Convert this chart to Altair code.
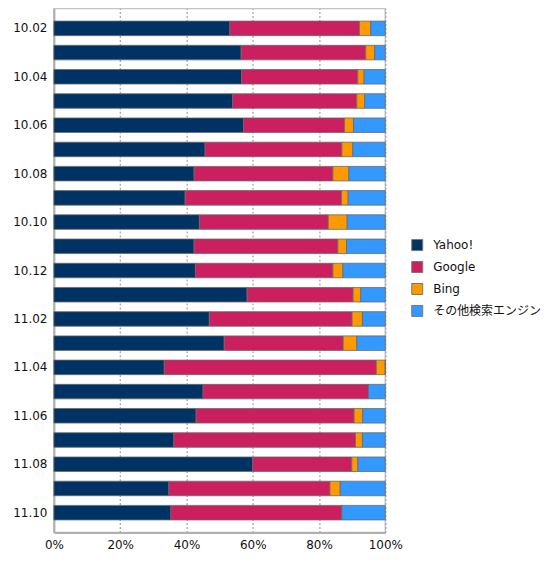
import altair as alt
import pandas as pd

months = ["10.02", "10.03", "10.04", "10.05", "10.06", "10.07", "10.08", "10.09",
          "10.10", "10.11", "10.12", "11.01", "11.02", "11.03", "11.04", "11.05",
          "11.06", "11.07", "11.08", "11.09", "11.10"]
yahoo = [53.1, 56.5, 56.6, 53.9, 57.2, 45.6, 42.3, 39.6, 43.9, 42.3, 42.7,
         58.3, 46.9, 51.4, 33.3, 45.0, 42.9, 36.2, 60.0, 34.7, 35.3]
google = [39.1, 37.6, 35.1, 37.5, 30.5, 41.3, 41.9, 47.2, 38.9, 43.4, 41.5,
          32.0, 43.1, 35.9, 64.0, 49.9, 47.7, 54.8, 29.9, 48.6, 51.6]
bing = [3.4, 2.7, 1.9, 2.4, 2.7, 3.3, 4.8, 2.0, 5.7, 2.6, 3.0,
        2.3, 3.1, 4.1, 2.7, 0.0, 2.6, 2.1, 1.8, 3.1, 0.0]
other = [4.4, 3.2, 6.4, 6.2, 9.6, 9.8, 11.0, 11.2, 11.5, 11.7, 12.8,
         7.4, 6.9, 8.6, 0.0, 5.1, 6.8, 6.9, 8.3, 13.6, 13.1]

engines = ["Yahoo!", "Google", "Bing", "その他検索エンジン"]
colors = ["#003263", "#CC1F5F", "#FF9900", "#3399FF"]

rows = []
for i, m in enumerate(months):
    for j, (name, vals) in enumerate(zip(engines, [yahoo, google, bing, other])):
        rows.append({"month": m, "engine": name, "value": vals[i], "idx": j})
df = pd.DataFrame(rows)

font = "DejaVu Sans, Noto Sans CJK JP"

chart = alt.Chart(df).mark_bar(stroke="#6a6a6a", strokeWidth=0.8).encode(
    y=alt.Y("month:N", sort=months,
            scale=alt.Scale(paddingInner=0.4, paddingOuter=0.52),
            axis=alt.Axis(title=None, ticks=False, labelPadding=7, minExtent=46,
                          labelFontSize=12, labelColor="#111", labelFont=font,
                          domainColor="#b0b0b0", domainWidth=2,
                          labelExpr="toNumber(substring(datum.value,3,5)) % 2 == 0 ? datum.value : ''")),
    x=alt.X("value:Q", stack="normalize",
            scale=alt.Scale(domain=[0, 1], nice=False),
            axis=alt.Axis(title=None, format="%", values=[0, 0.2, 0.4, 0.6, 0.8, 1.0],
                          ticks=False, labelPadding=7, labelFontSize=12, labelFont=font,
                          labelColor="#111", grid=True, gridDash=[2, 2],
                          gridColor="#a0a0a0", gridWidth=1.2,
                          domainColor="#b0b0b0", domainWidth=2,
                          labelFlush=False)),
    color=alt.Color("engine:N",
                    scale=alt.Scale(domain=engines, range=colors),
                    legend=alt.Legend(title=None, orient="none", legendX=358, legendY=231,
                                      symbolType="square", symbolSize=121,
                                      symbolStrokeColor="#777", symbolStrokeWidth=1,
                                      labelFontSize=12, labelFont=font, labelColor="#111",
                                      labelOffset=10, rowPadding=6)),
    order=alt.Order("idx:Q", sort="ascending"),
).properties(
    width=332, height=525,
    padding={"top": 0, "left": 0, "right": 0, "bottom": 0},
).configure_view(stroke="#c4c4c4", strokeWidth=1.5)

chart.save("out.html", embed_options={"renderer": "svg", "actions": False})
